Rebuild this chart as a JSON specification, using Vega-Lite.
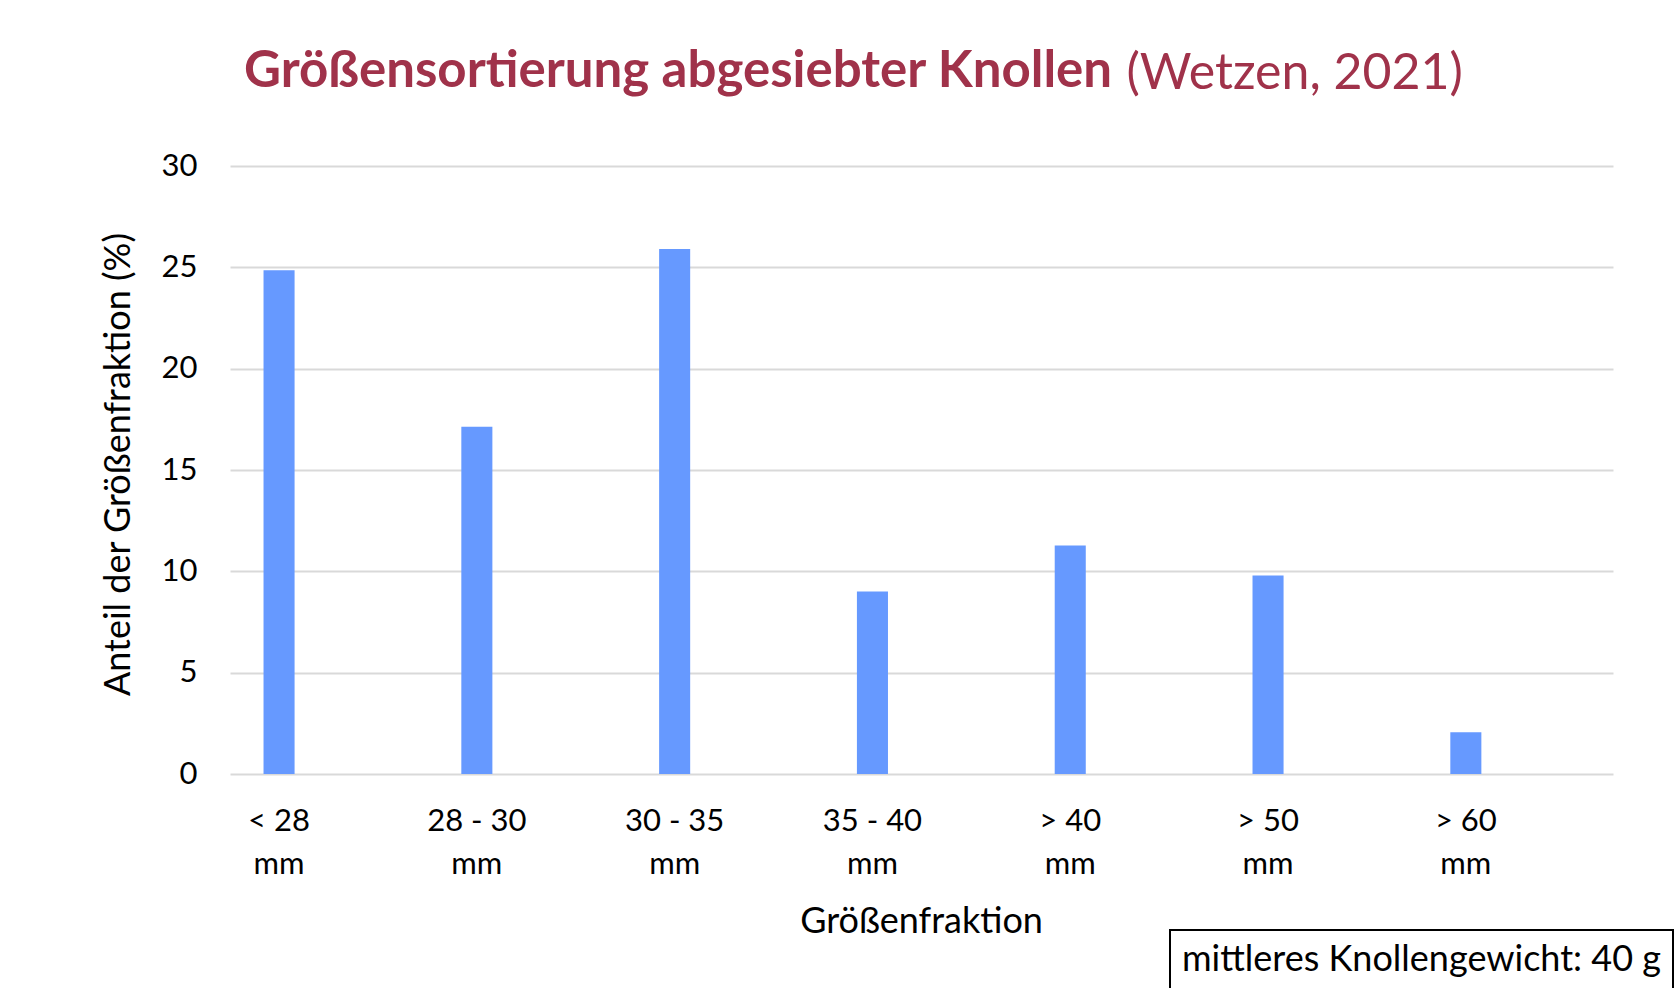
{
  "$schema": "https://vega.github.io/schema/vega-lite/v6.json",
  "width": 1383,
  "height": 608,
  "autosize": {"type": "none"},
  "padding": {"left": 230, "top": 166, "right": 64, "bottom": 214},
  "background": "white",
  "config": {"font": "Lato", "view": {"stroke": null}, "legend": {"strokeWidth": 2}},
  "title": {
    "text": "Größensortierung abgesiebter Knollen",
    "anchor": "start",
    "frame": "group",
    "dx": 14,
    "dy": 90,
    "fontSize": 51,
    "fontWeight": "bold",
    "color": "#a0324a",
    "font": "Lato",
    "baseline": "alphabetic",
    "offset": 0
  },
  "data": {
    "values": [
      {"Fraktion": "< 28 mm", "Anteil": 24.85},
      {"Fraktion": "28 - 30 mm", "Anteil": 17.14},
      {"Fraktion": "30 - 35 mm", "Anteil": 25.9},
      {"Fraktion": "35 - 40 mm", "Anteil": 9.0},
      {"Fraktion": "> 40 mm", "Anteil": 11.28},
      {"Fraktion": "> 50 mm", "Anteil": 9.8},
      {"Fraktion": "> 60 mm", "Anteil": 2.06}
    ]
  },
  "layer": [
    {
      "mark": {"type": "bar"},
      "encoding": {
        "x": {
          "field": "Fraktion",
          "type": "nominal",
          "sort": null,
          "scale": {"paddingInner": 0.843, "paddingOuter": 0.4175, "align": 0.203},
          "axis": {
            "title": "Größenfraktion",
            "domain": false,
            "ticks": false,
            "grid": false,
            "labelAngle": 0,
            "labelFontSize": 31,
            "labelColor": "black",
            "labelPadding": 56,
            "labelBaseline": "alphabetic",
            "labelLineHeight": 43,
            "labelExpr": "[replace(datum.value, ' mm', ''), 'mm']",
            "titleFontSize": 36,
            "titleFontWeight": "normal",
            "titleColor": "black",
            "titleBaseline": "alphabetic",
            "titleX": 691,
            "titleY": 158
          }
        },
        "y": {
          "field": "Anteil",
          "type": "quantitative",
          "scale": {"domain": [0, 30], "nice": false},
          "axis": {
            "title": "Anteil der Größenfraktion (%)",
            "values": [0, 5, 10, 15, 20, 25, 30],
            "domain": false,
            "ticks": false,
            "grid": true,
            "gridColor": "#d9d9d9",
            "gridWidth": 2,
            "labelFontSize": 31,
            "labelColor": "black",
            "labelPadding": 33,
            "titleFontSize": 36,
            "titleFontWeight": "normal",
            "titleColor": "black",
            "titleAngle": -90,
            "titleX": -112,
            "titleY": 298,
            "titleBaseline": "middle",
            "titleAlign": "center"
          }
        },
        "color": {
          "datum": "mittleres Knollengewicht: 40 g",
          "type": "nominal",
          "scale": {"range": ["#6699ff"]},
          "legend": {
            "orient": "none",
            "legendX": 940,
            "legendY": 764,
            "title": null,
            "strokeColor": "black",
            "fillColor": "white",
            "padding": 12,
            "labelFontSize": 36,
            "labelColor": "black",
            "labelOffset": -36,
            "labelLimit": 1000,
            "symbolType": "circle",
            "symbolSize": 1,
            "symbolOpacity": 0,
            "symbolStrokeWidth": 0.01
          }
        }
      }
    },
    {
      "mark": {"type": "point", "opacity": 0},
      "encoding": {
        "x": {
          "field": "Fraktion",
          "type": "nominal",
          "sort": null,
          "axis": {
            "orient": "top",
            "title": "(Wetzen, 2021)",
            "labels": false,
            "ticks": false,
            "domain": false,
            "grid": false,
            "titleFontSize": 50,
            "titleFontWeight": "normal",
            "titleColor": "#a0324a",
            "titleX": 896,
            "titleY": -78,
            "titleAlign": "left",
            "titleBaseline": "alphabetic"
          }
        },
        "y": {"field": "Anteil", "type": "quantitative"}
      }
    }
  ],
  "resolve": {"axis": {"x": "independent"}, "scale": {"x": "independent"}}
}
